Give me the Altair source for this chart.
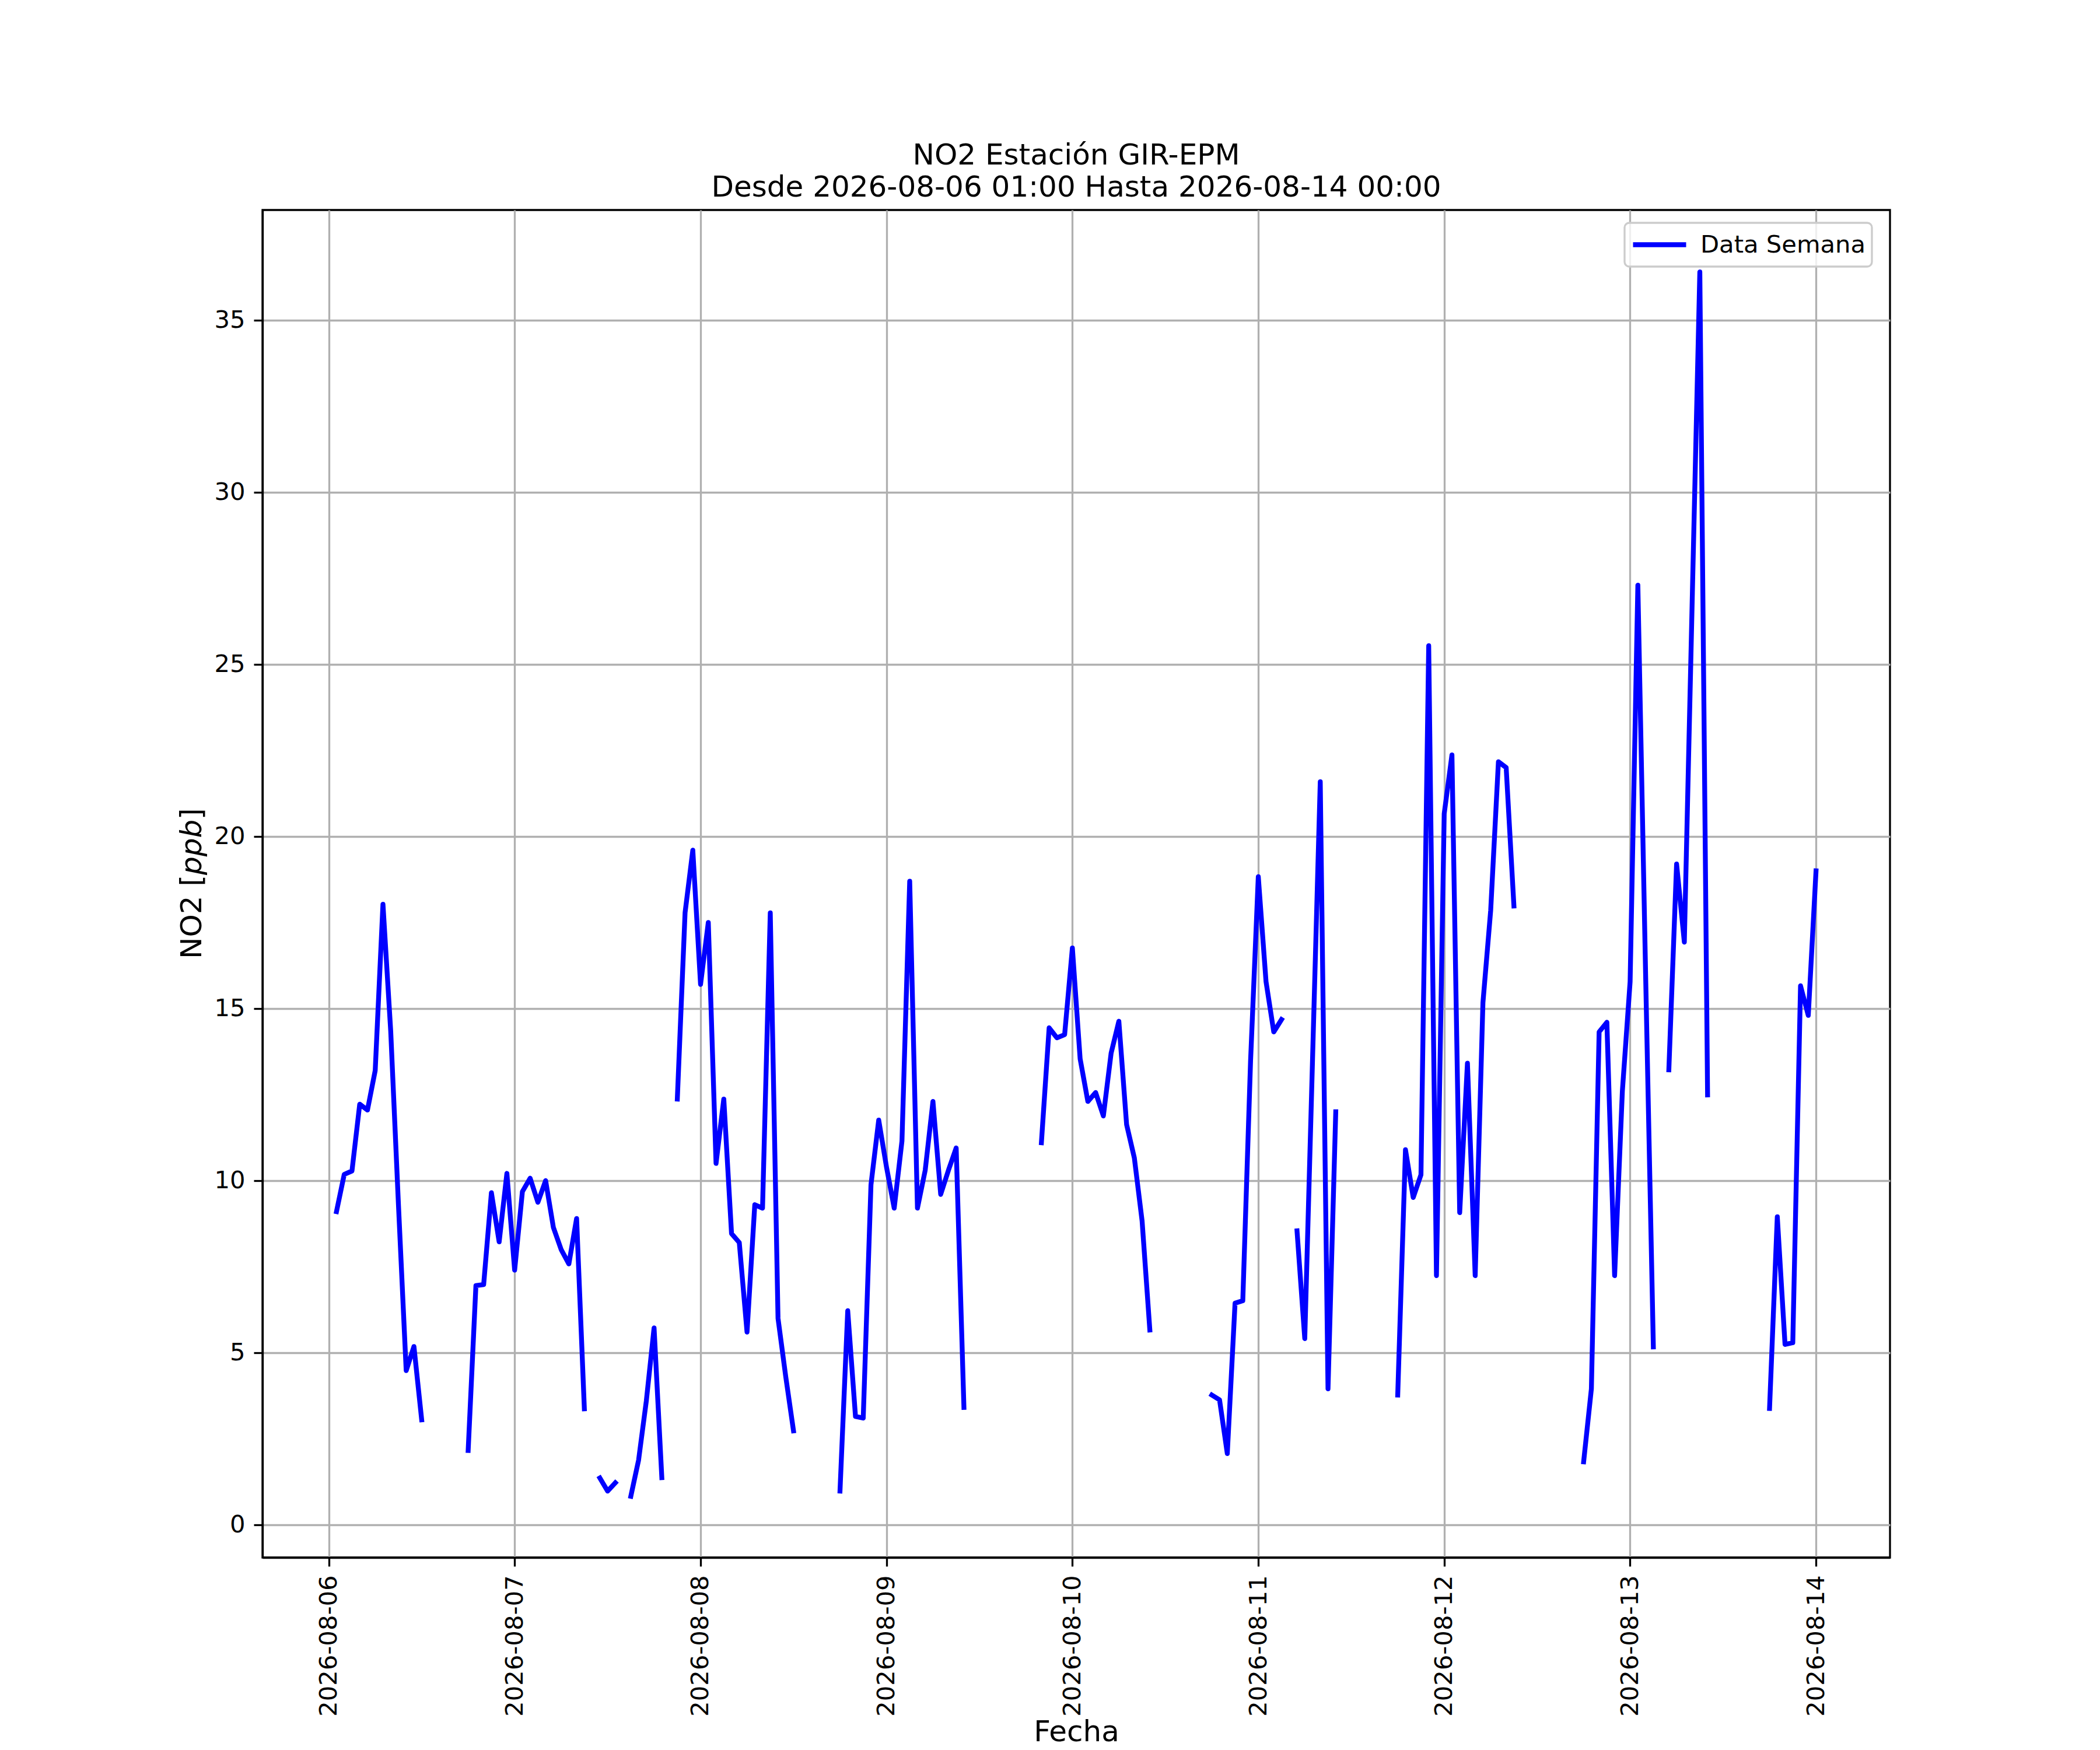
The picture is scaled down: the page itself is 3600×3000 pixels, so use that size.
import altair as alt
import pandas as pd

# ---- data (hourly NO2, ppb; None = missing) ----
start_time = "2026-08-06 01:00"
series_name = "Data Semana"

# 2026-08-06 01:00 .. 2026-08-07 00:00
day1 = [9.1, 10.18, 10.28, 12.22, 12.05, 13.2, 18.03, 14.35, 9.3, 4.48, 5.18, 3.05,
        None, None, None, None, None, 2.16, 6.95, 6.98, 9.65, 8.22, 10.21, 7.4]
# 2026-08-07 01:00 .. 2026-08-08 00:00
day2 = [9.68, 10.07, 9.37, 10.0, 8.64, 8.0, 7.58, 8.9, 3.37, None, 1.36, 0.98,
        1.22, None, 0.83, 1.88, 3.6, 5.72, 1.37, None, 12.37, 17.78, 19.6, 15.7]
# 2026-08-08 01:00 .. 2026-08-09 00:00
day3 = [17.5, 10.5, 12.37, 8.46, 8.2, 5.6, 9.3, 9.2, 17.78, 6.0, 4.3, 2.73,
        None, None, None, None, None, 0.98, 6.22, 3.15, 3.1, 9.88, 11.76, 10.4]
# 2026-08-09 01:00 .. 2026-08-10 00:00
day4 = [9.2, 11.15, 18.7, 9.2, 10.3, 12.3, 9.6, 10.3, 10.95, 3.41, None, None,
        None, None, None, None, None, None, None, 11.1, 14.44, 14.15, 14.24, 16.76]
# 2026-08-10 01:00 .. 2026-08-11 00:00
day5 = [13.54, 12.3, 12.56, 11.88, 13.7, 14.63, 11.63, 10.66, 8.83, 5.66, None, None,
        None, None, None, None, None, 3.77, 3.63, 2.07, 6.44, 6.51, 13.46, 18.83]
# 2026-08-11 01:00 .. 2026-08-12 00:00
day6 = [15.78, 14.32, 14.68, None, 8.54, 5.41, 13.5, 21.59, 3.95, 12.0, None, None,
        None, None, None, None, None, 3.77, 10.9, 9.51, 10.17, 25.54, 7.24, 20.66]
# 2026-08-12 01:00 .. 2026-08-13 00:00
day7 = [22.37, 9.07, 13.41, 7.24, 15.17, 17.85, 22.17, 22.0, 17.98, None, None, None,
        None, None, None, None, None, 1.83, 3.95, 14.32, 14.6, 7.24, 12.6, 15.78]
# 2026-08-13 01:00 .. 2026-08-14 00:00
day8 = [27.3, 16.0, 5.17, None, 13.22, 19.2, 16.93, 26.7, 36.4, 12.49, None, None,
        None, None, None, None, None, 3.38, 8.95, 5.24, 5.29, 15.66, 14.8, 19.0]

values = day1 + day2 + day3 + day4 + day5 + day6 + day7 + day8
times = pd.date_range(start_time, periods=len(values), freq="h").strftime("%Y-%m-%dT%H:%M:%S")

df = pd.DataFrame({"Fecha": list(times), "NO2": values, "serie": series_name})

tick_days = [6, 7, 8, 9, 10, 11, 12, 13, 14]
y_ticks = [0, 5, 10, 15, 20, 25, 30, 35]
title_lines = ["NO2 Estación GIR-EPM", "Desde 2026-08-06 01:00 Hasta 2026-08-14 00:00"]
ylabel_parts = ["NO2 [", "ppb", "]"]

FONT = "DejaVu Sans"
W, H = 2790, 2310

x_axis = alt.Axis(
    values=[alt.DateTime(year=2026, month=8, date=d) for d in tick_days],
    format="%Y-%m-%d", labelAngle=270, labelAlign="right", labelBaseline="middle",
    labelFontSize=41.7, labelFont=FONT, labelColor="black", labelPadding=15,
    labelOverlap=False, labelFlush=False, labelLimit=0,
    tickSize=15, tickWidth=3.3, tickColor="black",
    domainColor="black", domainWidth=3.3,
    grid=True, gridColor="#b0b0b0", gridWidth=3.3,
    title="Fecha", titleFontSize=50, titleFont=FONT, titleFontWeight="normal",
    titleColor="black", titleBaseline="alphabetic", titleY=314,
)
y_axis = alt.Axis(
    values=y_ticks, labelFontSize=41.7, labelFont=FONT, labelColor="black",
    labelPadding=15, labelLimit=0, tickSize=15, tickWidth=3.3, tickColor="black",
    domainColor="black", domainWidth=3.3,
    grid=True, gridColor="#b0b0b0", gridWidth=3.3, title=None,
)

line = alt.Chart(df).mark_line(
    strokeWidth=8.3, strokeCap="square", strokeJoin="round"
).encode(
    x=alt.X("Fecha:T", axis=x_axis,
            scale=alt.Scale(domain=[alt.DateTime(year=2026, month=8, date=5, hours=15, minutes=27),
                                    alt.DateTime(year=2026, month=8, date=14, hours=9, minutes=33)])),
    y=alt.Y("NO2:Q", axis=y_axis, scale=alt.Scale(domain=[-0.95, 38.2], nice=False, zero=False)),
    color=alt.Color("serie:N", scale=alt.Scale(range=["#0000ff"]),
                    legend=alt.Legend(title=None, orient="none", legendX=2335, legendY=22,
                                      symbolType="stroke", symbolSize=8281, symbolStrokeWidth=8.3,
                                      labelFontSize=41.7, labelFont=FONT, labelColor="black",
                                      labelOffset=20, labelLimit=0, padding=10, clipHeight=55,
                                      fillColor="rgba(255,255,255,0.8)", strokeColor="#cccccc",
                                      cornerRadius=8)),
)

def ylabel_piece(text, y, italic=False):
    return alt.Chart(pd.DataFrame({"t": [text]})).mark_text(
        angle=270, align="left", baseline="alphabetic", fontSize=50, font=FONT,
        fontStyle="italic" if italic else "normal", color="black"
    ).encode(text="t:N", x=alt.value(-105), y=alt.value(y))

ylab = ylabel_piece(ylabel_parts[0], 1284) + ylabel_piece(ylabel_parts[1], 1140, True) + ylabel_piece(ylabel_parts[2], 1045)

chart = alt.layer(line, ylab).properties(
    width=W, height=H,
    title=alt.Title(text=title_lines, fontSize=50, font=FONT, fontWeight="normal",
                    color="black", anchor="middle", offset=13, lineHeight=55),
    autosize=alt.AutoSizeParams(type="none"),
    padding={"left": 442, "top": 352, "right": 352, "bottom": 330},
).configure_view(stroke="black", strokeWidth=3.3).configure_legend(strokeWidth=3.3)

chart.save("out.html", embed_options={"renderer": "svg", "actions": False})
